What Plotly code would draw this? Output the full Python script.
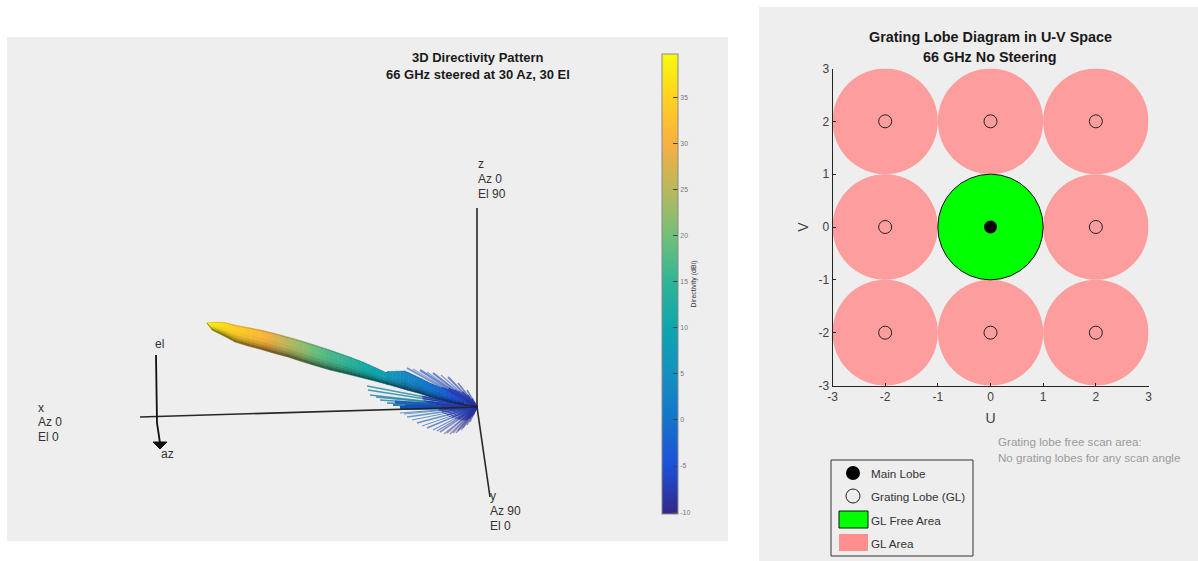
import plotly.graph_objects as go

FONT = "Liberation Sans"
PANEL = "#eeeeee"
INK = "#262626"

# ---------- colour scale of the directivity pattern ----------
scale_db = [-10.2, -5, 0, 5, 10, 15, 20, 25, 30, 35, 39.7]
scale_rgb = [(51, 39, 135), (28, 80, 216), (20, 115, 204), (20, 144, 192), (14, 165, 173),
             (47, 181, 150), (114, 192, 120), (185, 184, 92), (249, 176, 64), (255, 210, 31), (248, 250, 14)]
colorbar_ticks = [-10, -5, 0, 5, 10, 15, 20, 25, 30, 35]

# ---------- main lobe outline, read in picture units ----------
lobe_x = [207, 212, 218, 225, 235, 248, 263, 275, 288, 300, 313, 330, 347, 363, 375, 386, 388, 405, 418, 430, 442, 452, 463, 477]
lobe_top = [323, 322.3, 322, 322.5, 325, 327.5, 330.5, 333.5, 337, 340.5, 344.5, 350, 356, 362, 367.5, 372.5, 371.5, 371, 377, 383, 388, 393, 398, 407]
lobe_bottom = [323, 330, 333, 336.5, 342, 346, 350, 353.5, 357, 361, 365, 370, 374, 378, 381, 384, 384.5, 389.5, 393, 397, 400, 402.5, 405, 407]
lobe_db = [39, 38, 37, 36, 34.5, 33, 31, 28, 25, 23, 20, 17, 15, 12, 10, 8, 7, 4, 2, 0, -2, -5, -7, -10]

# ---------- side lobes: tip position, tip level, stroke width, opacity ----------
spike_x = [407, 413, 420, 427, 433, 441, 448, 458, 467, 367, 368, 370, 376, 380, 387, 393, 395, 400, 405,
           400, 404, 407, 412, 417, 422, 427, 433, 437, 440, 444, 447, 450, 453, 456, 458, 461, 463, 467, 470]
spike_y = [368, 369, 370, 372, 373, 375, 377, 383, 390, 386, 390, 395, 397, 400, 403, 405, 402, 408, 406,
           413, 414, 417, 420, 423, 426, 428, 430, 431, 432, 434, 433, 434, 433, 433, 431, 430, 428, 425, 422]
spike_db = [-4, -5, -5, -5, -6, -6, -6, -7, -7, 7, 6, 7, 5, 4, 3, 1, -1, -3, -3,
            0, -1, -1, -2, -2, -3, -4, -5, -6, -7, -8, -8, -8, -8, -9, -9, -9, -9, -9, -9]
spike_width = [2, 1.2, 2.2, 1.2, 2.2, 1.2, 1.8, 1.5, 1.5, 1.4, 1.4, 1.4, 1.4, 1.4, 1.6, 2, 3, 4, 3,
               1, 1, 1.3, 1, 1.3, 1, 1.4, 1.2, 1.4, 1.6, 1.4, 1.6, 1.4, 1.6, 1.4, 1.6, 1.4, 1.6, 1.6, 1.6]
spike_opacity = [0.55, 0.45, 0.6, 0.45, 0.6, 0.5, 0.6, 0.6, 0.6, 0.75, 0.75, 0.75, 0.75, 0.75, 0.8, 0.85, 0.9, 1, 1,
                 0.6, 0.6, 0.6, 0.6, 0.6, 0.6, 0.6, 0.55, 0.55, 0.5, 0.45, 0.45, 0.45, 0.45, 0.45, 0.45, 0.45, 0.45, 0.45, 0.45]

# ---------- 3D axes drawn in the left panel ----------
origin = (477, 407)
axis_tips_x = [477, 140, 490]
axis_tips_y = [208, 417, 497]
frame_x = [156, 157, 160]
frame_y = [355, 423, 443]
arrow_x = [153, 167, 160, 153]
arrow_y = [442, 442, 449, 442]

# ---------- U-V grating lobe diagram ----------
uv_ticks = [-3, -2, -1, 0, 1, 2, 3]
uv_labels = ["-3", "-2", "-1", "0", "1", "2", "3"]
lobe_u = [-2, 0, 2, -2, 2, -2, 0, 2]
lobe_v = [2, 2, 2, 0, 0, -2, -2, -2]
main_u = [0]
main_v = [0]
radius = 1

legend_labels = ["Main Lobe", "Grating Lobe (GL)", "GL Free Area", "GL Area"]
legend_y = [473, 496, 520, 543]
PINK = "#fd9d9d"
GREEN = "#00ff00"


def rgb_at(db, shade=1.0):
    db = max(scale_db[0], min(scale_db[-1], db))
    for i in range(len(scale_db) - 1):
        if db <= scale_db[i + 1]:
            t = (db - scale_db[i]) / (scale_db[i + 1] - scale_db[i])
            c = [scale_rgb[i][k] + t * (scale_rgb[i + 1][k] - scale_rgb[i][k]) for k in range(3)]
            return "rgb(%d,%d,%d)" % tuple(int(v * shade) for v in c)
    return "rgb(%d,%d,%d)" % scale_rgb[-1]


fig = go.Figure()
PX = dict(xaxis="x2", yaxis="y2", hoverinfo="skip", showlegend=False)

# side lobes first, lobe over them
for x, y, db, w, op in zip(spike_x, spike_y, spike_db, spike_width, spike_opacity):
    fig.add_trace(go.Scatter(x=[origin[0], x], y=[origin[1], y], mode="lines",
                             line=dict(color=rgb_at(db, 0.85), width=w), opacity=op, **PX))
    mx, my = origin[0] + 0.5 * (x - origin[0]), origin[1] + 0.5 * (y - origin[1])
    fig.add_trace(go.Scatter(x=[origin[0], mx], y=[origin[1], my], mode="lines",
                             line=dict(color=rgb_at(-8), width=w), opacity=min(1, op + 0.2), **PX))

# 3D axes
for tx, ty in zip(axis_tips_x, axis_tips_y):
    fig.add_trace(go.Scatter(x=[origin[0], tx], y=[origin[1], ty], mode="lines",
                             line=dict(color=INK, width=1.6), **PX))

# main lobe built from shaded strips; each read interval is painted in finer steps for a smooth gradient
bands = [(0.0, 0.08, 0.86), (0.08, 0.4, 1.0), (0.4, 0.6, 0.96), (0.6, 0.75, 0.86), (0.75, 0.88, 0.72), (0.88, 1.0, 0.52)]
STEPS = 4
for i in range(len(lobe_x) - 1):
    for s in range(STEPS):
        f0, f1 = s / STEPS, (s + 1) / STEPS
        x0 = lobe_x[i] + f0 * (lobe_x[i + 1] - lobe_x[i])
        x1 = lobe_x[i] + f1 * (lobe_x[i + 1] - lobe_x[i])
        t0 = lobe_top[i] + f0 * (lobe_top[i + 1] - lobe_top[i])
        t1 = lobe_top[i] + f1 * (lobe_top[i + 1] - lobe_top[i])
        b0 = lobe_bottom[i] + f0 * (lobe_bottom[i + 1] - lobe_bottom[i])
        b1 = lobe_bottom[i] + f1 * (lobe_bottom[i + 1] - lobe_bottom[i])
        db = lobe_db[i] + 0.5 * (f0 + f1) * (lobe_db[i + 1] - lobe_db[i])
        for a, b, shade in bands:
            xs = [x0, x1, x1, x0, x0]
            ys = [t0 + a * (b0 - t0), t1 + a * (b1 - t1), t1 + b * (b1 - t1), t0 + b * (b0 - t0), t0 + a * (b0 - t0)]
            col = rgb_at(db, shade)
            fig.add_trace(go.Scatter(x=xs, y=ys, mode="lines", fill="toself", fillcolor=col,
                                     line=dict(color=col, width=0.5), **PX))

# el / az frame
fig.add_trace(go.Scatter(x=frame_x, y=frame_y, mode="lines", line=dict(color="#111111", width=1.8), **PX))
fig.add_trace(go.Scatter(x=arrow_x, y=arrow_y, mode="lines", fill="toself", fillcolor="#111111",
                         line=dict(color="#111111", width=1), **PX))

# colour bar
fig.add_trace(go.Scatter(
    x=[-50, -50], y=[-50, -50], mode="markers", xaxis="x2", yaxis="y2", hoverinfo="skip", showlegend=False,
    marker=dict(
        size=1, opacity=0, color=[scale_db[0], scale_db[-1]], cmin=scale_db[0], cmax=scale_db[-1],
        colorscale=[[(d - scale_db[0]) / (scale_db[-1] - scale_db[0]), "rgb(%d,%d,%d)" % c]
                    for d, c in zip(scale_db, scale_rgb)],
        showscale=True,
        colorbar=dict(
            x=662 / 1198, xanchor="left", xref="paper", y=1 - 54 / 561, yanchor="top", yref="paper",
            thickness=16, thicknessmode="pixels", len=460, lenmode="pixels", xpad=0, ypad=0,
            outlinecolor="#8a8a8a", outlinewidth=1, bgcolor="rgba(0,0,0,0)",
            tickmode="array", tickvals=colorbar_ticks, ticktext=[str(t) for t in colorbar_ticks],
            ticks="inside", ticklen=5, tickwidth=1, tickcolor="#444444",
            tickfont=dict(family=FONT, size=6.8, color="#777777"),
            title=dict(text="Directivity (dBi)", side="right", font=dict(family=FONT, size=7, color="#333333")),
        ),
    ),
))

# U-V panel
fig.add_trace(go.Scatter(x=lobe_u, y=lobe_v, mode="markers", hoverinfo="skip", showlegend=False,
                         marker=dict(size=13, color="rgba(0,0,0,0)", line=dict(color="#222222", width=1))))
fig.add_trace(go.Scatter(x=main_u, y=main_v, mode="markers", hoverinfo="skip", showlegend=False,
                         marker=dict(size=13, color="black")))

# legend contents
fig.add_trace(go.Scatter(x=[853], y=[legend_y[0]], mode="markers", marker=dict(size=14, color="black"), **PX))
fig.add_trace(go.Scatter(x=[853], y=[legend_y[1]], mode="markers",
                         marker=dict(size=14, color=PANEL, line=dict(color="#222222", width=1)), **PX))


def px_rect(x0, x1, y0, y1, **kw):
    return dict(type="rect", xref="paper", yref="paper", x0=x0 / 1198, x1=x1 / 1198,
                y0=1 - y1 / 561, y1=1 - y0 / 561, **kw)


shapes = [
    px_rect(7, 728, 37, 541, fillcolor=PANEL, line_width=0, layer="below"),
    px_rect(759, 1198, 7, 561, fillcolor=PANEL, line_width=0, layer="below"),
    px_rect(831, 973, 460, 556, fillcolor=PANEL, line=dict(color="#333333", width=1), layer="below"),
    px_rect(839, 868, 511, 528, fillcolor=GREEN, line=dict(color="#111111", width=1), layer="above"),
    px_rect(839, 868, 534, 551, fillcolor="#ff8e8e", line_width=0, layer="above"),
]
for u, v in zip(lobe_u, lobe_v):
    shapes.append(dict(type="circle", xref="x", yref="y", x0=u - radius, x1=u + radius, y0=v - radius, y1=v + radius,
                       fillcolor=PINK, line_width=0, layer="below"))
shapes.append(dict(type="circle", xref="x", yref="y", x0=main_u[0] - radius, x1=main_u[0] + radius,
                   y0=main_v[0] - radius, y1=main_v[0] + radius, fillcolor=GREEN,
                   line=dict(color="#111111", width=1), layer="below"))


def note(x, y, text, size=12, color="#333333", bold=False, anchor="left"):
    return dict(xref="x2", yref="y2", x=x, y=y, text="<b>%s</b>" % text if bold else text, showarrow=False,
                xanchor=anchor, yanchor="middle", xshift=-2 if anchor == "left" else 0,
                font=dict(family=FONT, size=size, color=color))


notes = [
    note(478, 57, "3D Directivity Pattern", 13, "#1a1a1a", True, "center"),
    note(478, 74, "66 GHz steered at 30 Az, 30 El", 13, "#1a1a1a", True, "center"),
    note(478, 164, "z"), note(478, 179, "Az 0"), note(478, 194, "El 90"),
    note(38, 408, "x"), note(38, 422, "Az 0"), note(38, 437, "El 0"),
    note(490, 496, "y"), note(490, 511, "Az 90"), note(490, 526, "El 0"),
    note(155, 344, "el"), note(161, 454, "az"),
    note(990, 37, "Grating Lobe Diagram in U-V Space", 14.4, "#1a1a1a", True, "center"),
    note(990, 57, "66 GHz No Steering", 14.4, "#1a1a1a", True, "center"),
    note(998, 441, "Grating lobe free scan area:", 11.6, "#9a9a9a"),
    note(998, 457, "No grating lobes for any scan angle", 11.6, "#9a9a9a"),
]
for label, y in zip(legend_labels, legend_y):
    notes.append(note(871, y, label, 11.7))

uv_axis = dict(range=[-3, 3], tickmode="array", tickvals=uv_ticks, ticktext=uv_labels, ticks="inside", ticklen=3,
               tickcolor=INK, showline=True, linecolor=INK, linewidth=1, showgrid=False, zeroline=False,
               tickfont=dict(family=FONT, size=12, color="#404040"))

fig.update_layout(
    width=1198, height=561, autosize=False, margin=dict(l=0, r=0, t=0, b=0, pad=0, autoexpand=False),
    paper_bgcolor="white", plot_bgcolor="rgba(0,0,0,0)", showlegend=False,
    xaxis=dict(domain=[832.5 / 1198, 1148.5 / 1198], anchor="y",
               title=dict(text="U", standoff=10, font=dict(family=FONT, size=14, color="#404040")), **uv_axis),
    yaxis=dict(domain=[1 - 385.5 / 561, 1 - 68.5 / 561], anchor="x",
               title=dict(text="V", standoff=6, font=dict(family=FONT, size=14, color="#404040")), **uv_axis),
    xaxis2=dict(domain=[0, 1], range=[0, 1198], visible=False, anchor="y2", fixedrange=True),
    yaxis2=dict(domain=[0, 1], range=[561, 0], visible=False, anchor="x2", fixedrange=True),
    shapes=shapes, annotations=notes,
)

fig.write_html("out.html", config=dict(displayModeBar=False),
               post_script="document.body.style.margin='0';document.body.style.overflow='hidden';")
